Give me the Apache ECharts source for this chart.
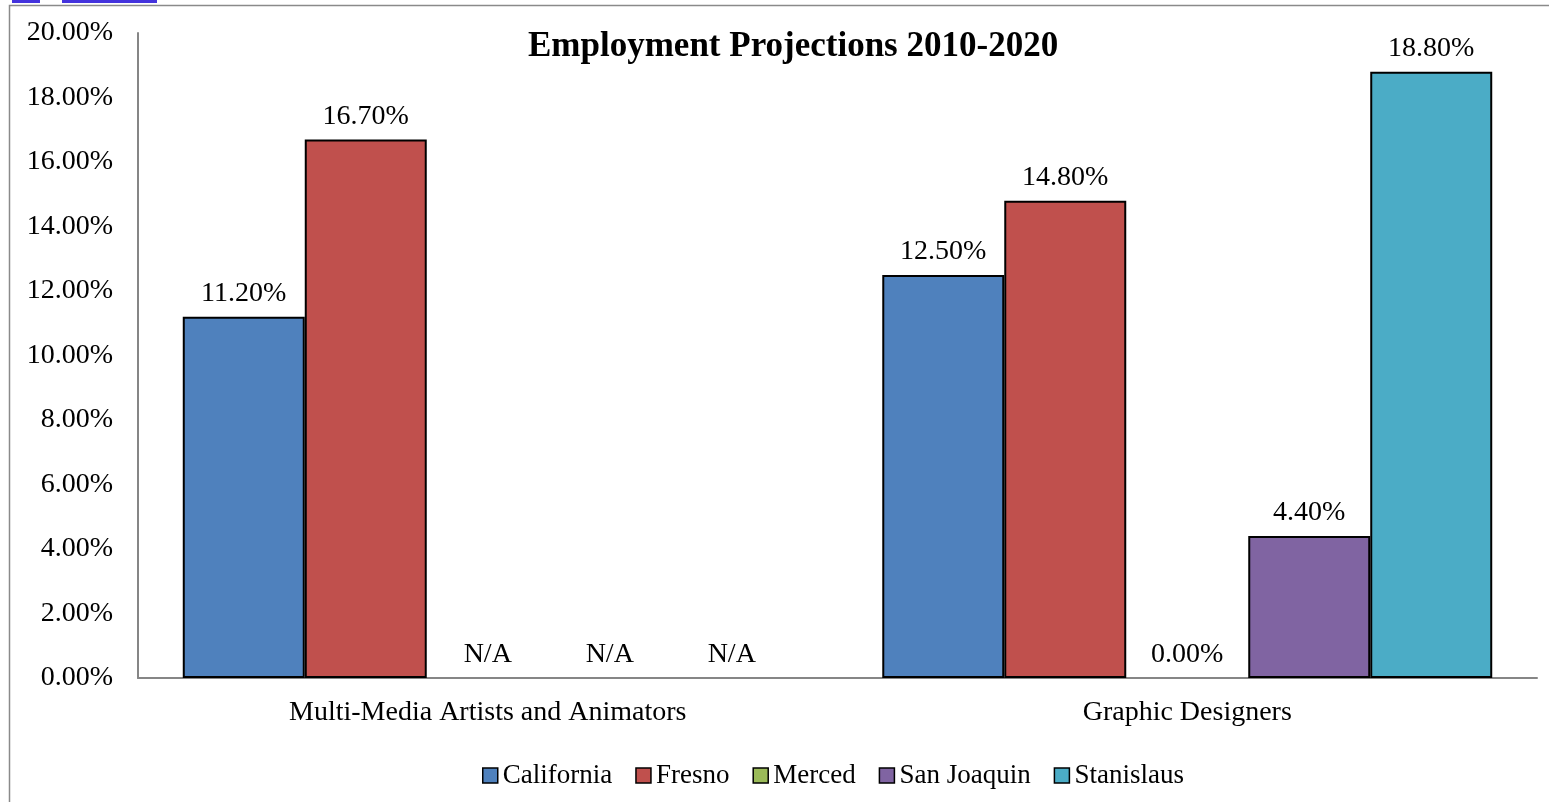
<!DOCTYPE html>
<html>
<head>
<meta charset="utf-8">
<script src="https://cdn.jsdelivr.net/npm/echarts@6/dist/echarts.min.js"></script>
<style>
html,body{margin:0;padding:0;background:#fff;}
#chart{width:1549px;height:802px;}
</style>
</head>
<body>
<div id="chart"></div>
<script>
const categories = ['Multi-Media Artists and Animators', 'Graphic Designers'];
const seriesNames = ['California', 'Fresno', 'Merced', 'San Joaquin', 'Stanislaus'];
const california = [11.2, 12.5];
const fresno = [16.7, 14.8];
const merced = [null, 0.0];      // null = N/A
const sanJoaquin = [null, 4.4];
const stanislaus = [null, 18.8];
const yTicks = [0, 2, 4, 6, 8, 10, 12, 14, 16, 18, 20];
const colors = ['#4F81BD', '#C0504D', '#9BBB59', '#8064A2', '#4BACC6'];

const FONT = '"Liberation Serif", "Times New Roman", serif';
const allSeries = [california, fresno, merced, sanJoaquin, stanislaus];

function buildData(arr) {
  return arr.map(v => {
    if (v === null) {
      return { value: 0, itemStyle: { borderWidth: 0 }, label: { formatter: 'N/A' } };
    }
    if (v === 0) {
      return { value: 0, itemStyle: { borderWidth: 0 } };
    }
    return v;
  });
}

const chart = echarts.init(document.getElementById('chart'), null, { renderer: 'canvas' });
chart.setOption({
  animation: false,
  backgroundColor: '#ffffff',
  color: colors,
  title: {
    text: 'Employment Projections 2010-2020',
    left: 523,
    top: 24,
    textStyle: { fontFamily: FONT, fontSize: 35, fontWeight: 'bold', color: '#000' }
  },
  legend: {
    data: seriesNames,
    left: 477,
    top: 757,
    itemWidth: 15,
    itemHeight: 15,
    itemGap: 23,
    icon: 'rect',
    itemStyle: { borderColor: '#000', borderWidth: 1.5 },
    textStyle: { fontFamily: FONT, fontSize: 27, color: '#000' }
  },
  grid: { left: 138, right: 12, top: 33, bottom: 124, containLabel: false },
  xAxis: {
    type: 'category',
    data: categories,
    axisLine: { show: true, lineStyle: { color: '#868686', width: 2 } },
    axisTick: { show: false },
    axisLabel: { fontFamily: FONT, fontSize: 28, color: '#000', margin: 21 },
    splitLine: { show: false }
  },
  yAxis: {
    type: 'value',
    min: yTicks[0],
    max: yTicks[yTicks.length - 1],
    interval: yTicks[1] - yTicks[0],
    axisLine: { show: true, lineStyle: { color: '#868686', width: 2 } },
    axisTick: { show: false },
    splitLine: { show: false },
    axisLabel: {
      fontFamily: FONT, fontSize: 28, color: '#000', margin: 25,
      formatter: v => v.toFixed(2) + '%'
    }
  },
  series: seriesNames.map((name, i) => ({
    name: name,
    type: 'bar',
    data: buildData(allSeries[i]),
    barGap: '0%',
    barCategoryGap: '12.8%',
    itemStyle: { color: colors[i], borderColor: '#000', borderWidth: 2 },
    label: {
      show: true,
      position: 'top',
      distance: 9,
      fontFamily: FONT,
      fontSize: 28,
      color: '#000',
      formatter: p => Number(p.value).toFixed(2) + '%'
    }
  })),
  graphic: [
    { type: 'rect', left: 7, top: 3, shape: { width: 1600, height: 900 }, style: { fill: 'none', stroke: '#8a8a8a', lineWidth: 1.5 }, silent: true, z: -10 },
    { type: 'rect', left: 12, top: 0, shape: { width: 28, height: 3 }, style: { fill: '#4433dd' }, silent: true },
    { type: 'rect', left: 62, top: 0, shape: { width: 95, height: 3 }, style: { fill: '#4433dd' }, silent: true }
  ]
});
</script>
</body>
</html>
